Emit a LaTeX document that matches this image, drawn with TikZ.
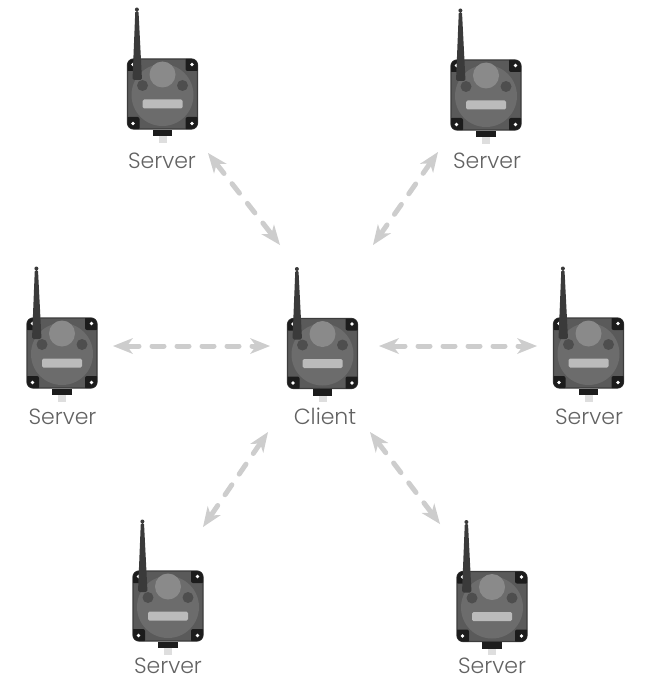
\documentclass[tikz,border=0pt]{standalone}
\usepackage{fontspec}
\newfontfamily\lblfont{Poppins Light}
\usetikzlibrary{arrows.meta}

\definecolor{bodygray}{HTML}{5A5A5A}
\definecolor{bodyedge}{HTML}{3C3C3C}
\definecolor{discgray}{HTML}{6C6C6C}
\definecolor{capgray}{HTML}{8A8A8A}
\definecolor{knobgray}{HTML}{4E4E4E}
\definecolor{bargray}{HTML}{BBBBBB}
\definecolor{cornerblack}{HTML}{1C1C1C}
\definecolor{stubgray}{HTML}{DEDEDE}
\definecolor{antgray}{HTML}{3A3A3A}
\definecolor{linkgray}{HTML}{CDCDCD}
\definecolor{textgray}{HTML}{626262}

\tikzset{
  pics/device/.style={code={
    % housing
    \fill[bodygray, draw=bodyedge, line width=1.2pt, rounded corners=6pt]
      (-35,-35) rectangle (35,35);
    \begin{scope}
      \clip[rounded corners=6pt] (-35,-35) rectangle (35,35);
      \foreach \sx/\sy in {-1/-1, 1/-1, -1/1, 1/1}{
        \fill[cornerblack, rounded corners=2pt]
          (\sx*36,\sy*36) rectangle (\sx*23,\sy*23);
      }
    \end{scope}
    \foreach \sx/\sy in {-1/-1, 1/-1, -1/1, 1/1}{
      \fill[white] (\sx*29.5,\sy*29.5) circle (1.8);
    }
    % dome and indicators
    \fill[discgray] (0,1) circle (31);
    \fill[capgray] (0,-19.5) circle (13);
    \fill[knobgray] (-20,-8.5) circle (5.5);
    \fill[knobgray] (20,-8.5) circle (5.5);
    \fill[bargray, rounded corners=1.5pt] (-20,5.5) rectangle (20,14.5);
    % cable connector
    \fill[cornerblack] (-10,35.6) rectangle (9.5,42);
    \fill[stubgray] (-4,42) rectangle (4,48.5);
    % antenna
    \fill[antgray, rounded corners=1.5pt]
      (-30,-14) -- (-20.5,-14) -- (-24,-83) -- (-27.2,-83) -- cycle;
    \fill[antgray] (-25.6,-84.5) circle (2);
  }},
  link/.style={draw=linkgray, line width=5pt, line cap=round,
    dash pattern=on 12pt off 13pt,
    {Stealth[length=20pt,width=16pt,inset=6pt,fill=linkgray,line width=0pt]}-{Stealth[length=20pt,width=16pt,inset=6pt,fill=linkgray,line width=0pt]}},
  devlabel/.style={anchor=base, text=textgray, font=\lblfont\fontsize{22}{24}\selectfont,
    inner sep=0pt, text depth=0pt}
}

\begin{document}
\begin{tikzpicture}[x=1pt, y=-1pt]
  \useasboundingbox (0,0) rectangle (648,682);

  % devices
  \pic at (322.5,353.5) {device};
  \pic at (162.5,94) {device};
  \pic at (486,95) {device};
  \pic at (62,353) {device};
  \pic at (588.5,353) {device};
  \pic at (168,606) {device};
  \pic at (492,606.5) {device};

  % labels
  \node[devlabel] (client) at (325,424) {Client};
  \node[devlabel] (srvtl) at (162,168) {Server};
  \node[devlabel] (srvtr) at (487,168) {Server};
  \node[devlabel] (srvl) at (62.5,424) {Server};
  \node[devlabel] (srvr) at (589,424) {Server};
  \node[devlabel] (srvbl) at (168,673.5) {Server};
  \node[devlabel] (srvbr) at (492,673.5) {Server};

  % link end points
  \coordinate (tl-out) at (208,153);
  \coordinate (tl-in)  at (280,245);
  \coordinate (tr-out) at (438,152);
  \coordinate (tr-in)  at (373,245);
  \coordinate (l-out)  at (113,346);
  \coordinate (l-in)   at (270,346);
  \coordinate (r-out)  at (537,346);
  \coordinate (r-in)   at (379,346);
  \coordinate (bl-out) at (203,527);
  \coordinate (bl-in)  at (268,432);
  \coordinate (br-out) at (440,524);
  \coordinate (br-in)  at (370,432);

  % radio links
  \draw[link] (tl-out) -- (tl-in);
  \draw[link] (tr-out) -- (tr-in);
  \draw[link] (l-out) -- (l-in);
  \draw[link] (r-in) -- (r-out);
  \draw[link] (bl-in) -- (bl-out);
  \draw[link] (br-in) -- (br-out);
\end{tikzpicture}
\end{document}
